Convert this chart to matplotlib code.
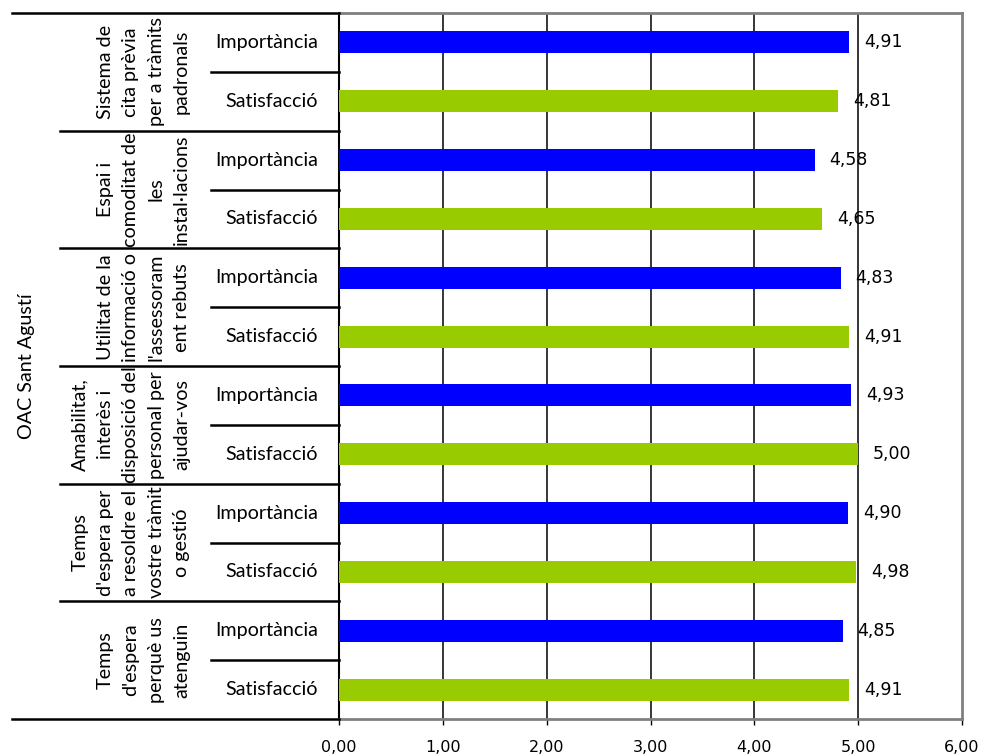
import matplotlib
matplotlib.use("Agg")
import matplotlib.pyplot as plt
import numpy as np
from matplotlib import transforms
from matplotlib.lines import Line2D

# ---- data ----
office = "OAC Sant Agustí"
groups = [
    "Sistema de\ncita prèvia\nper a tràmits\npadronals",
    "Espai i\ncomoditat de\nles\ninstal·lacions",
    "Utilitat de la\ninformació o\nl'assessoram\nent rebuts",
    "Amabilitat,\ninterès i\ndisposició del\npersonal per\najudar-vos",
    "Temps\nd'espera per\na resoldre el\nvostre tràmit\no gestió",
    "Temps\nd'espera\nperquè us\natenguin",
]
measures = ["Importància", "Satisfacció"]
importancia = [4.91, 4.58, 4.83, 4.93, 4.90, 4.85]
satisfaccio = [4.81, 4.65, 4.91, 5.00, 4.98, 4.91]
xticks = [0, 1, 2, 3, 4, 5, 6]
xtick_labels = ["0,00", "1,00", "2,00", "3,00", "4,00", "5,00", "6,00"]

colors = {"Importància": "#0000FF", "Satisfacció": "#99CC00"}

W, H = 985, 756
fig = plt.figure(figsize=(W / 100, H / 100), dpi=100)
fig.patch.set_facecolor("white")

ax_left, ax_right, ax_top, ax_bottom = 339, 962, 13, 719
ax = fig.add_axes([ax_left / W, 1 - ax_bottom / H,
                   (ax_right - ax_left) / W, (ax_bottom - ax_top) / H])

# rows top to bottom: each group gives Importància then Satisfacció
values, row_labels, row_colors = [], [], []
for imp, sat in zip(importancia, satisfaccio):
    values += [imp, sat]
    row_labels += measures
    row_colors += [colors["Importància"], colors["Satisfacció"]]
n = len(values)
ypos = np.arange(n)

ax.barh(ypos, values, height=0.375, color=row_colors, zorder=3)
ax.set_ylim(n - 0.5, -0.5)
ax.set_xlim(0, 6)

for y, v in zip(ypos, values):
    ax.annotate(f"{v:.2f}".replace(".", ","), xy=(v, y), xytext=(10.8, 0),
                textcoords="offset points", ha="left", va="center",
                fontsize=12.5, family="DejaVu Sans", color="black", zorder=4)

# grid and frame
for x in xticks[1:-1]:
    ax.axvline(x, color="black", lw=1.1, zorder=1)
ax.set_yticks([])
ax.set_xticks(xticks)
ax.set_xticklabels(xtick_labels, fontsize=11.5, family="DejaVu Sans")
ax.tick_params(axis="x", direction="out", length=4, width=1, color="black", pad=11)
for side in ("top", "right", "bottom"):
    ax.spines[side].set_color("#808080")
    ax.spines[side].set_linewidth(2)
ax.spines["left"].set_color("black")
ax.spines["left"].set_linewidth(1.5)

# category table on the left: x in figure pixels, y in data rows
px = transforms.blended_transform_factory(fig.transFigure, ax.transData)


def fx(p):
    return p / W


def hline(x0, x1, y, lw=1.8):
    fig.add_artist(Line2D([fx(x0), fx(x1)], [y, y], transform=px,
                          color="black", lw=lw, clip_on=False))


hline(12, ax_left, -0.5)
hline(12, ax_left, n - 0.5)
for g in range(1, len(groups)):
    hline(60, ax_left, 2 * g - 0.5)
for g in range(len(groups)):
    hline(211, ax_left, 2 * g + 0.5)

label_font = dict(family=["Lato", "DejaVu Sans"], fontsize=14.2, color="black")

for y, lab in zip(ypos, row_labels):
    fig.text(fx(318), y, lab, transform=px, ha="right", va="center", **label_font)

for g, name in enumerate(groups):
    t = fig.text(fx(190), 2 * g + 0.5, name, transform=px, rotation=90,
                 ha="right", va="center", multialignment="center",
                 linespacing=1.6, **label_font)
    box = transforms.TransformedBbox(
        transforms.Bbox([[fx(60), 2 * g - 0.5], [fx(211), 2 * g + 1.5]]), px)
    t.set_clip_box(box)
    t.set_clip_on(True)

fig.text(fx(27), (n - 1) / 2, office, transform=px, rotation=90,
         ha="center", va="center", **label_font)

fig.savefig("out.png", dpi=100, facecolor="white")
